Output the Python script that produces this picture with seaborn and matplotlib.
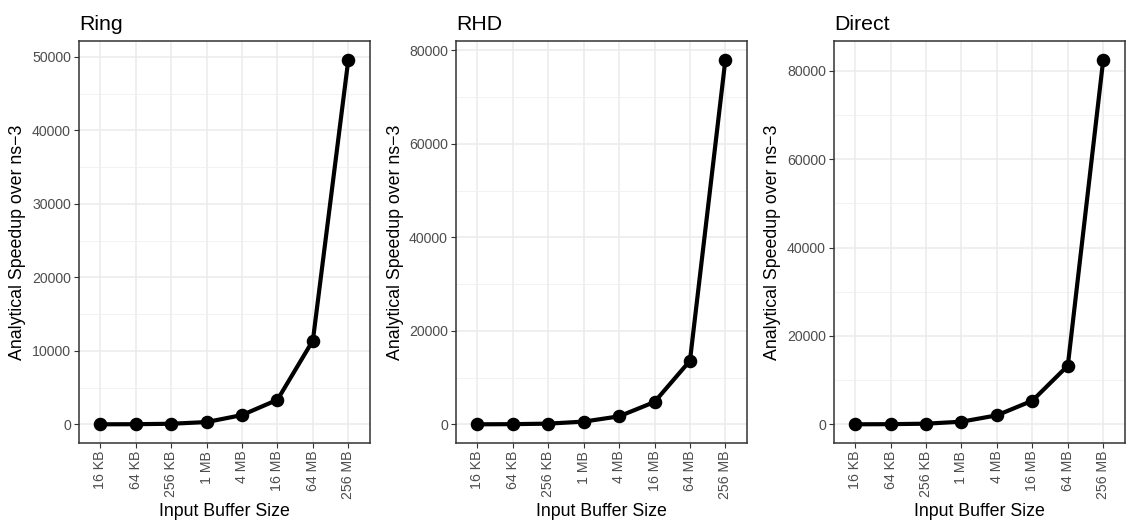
import matplotlib
matplotlib.use("Agg")
import matplotlib.pyplot as plt
import seaborn as sns
import pandas as pd
from matplotlib.ticker import MultipleLocator

sizes = ["16 KB", "64 KB", "256 KB", "1 MB", "4 MB", "16 MB", "64 MB", "256 MB"]
ring = [5, 20, 80, 310, 1260, 3340, 11400, 49600]
rhd = [10, 40, 150, 580, 1710, 4780, 13600, 78000]
direct = [10, 40, 150, 600, 2040, 5350, 13270, 82500]
titles = ["Ring", "RHD", "Direct"]
series = [ring, rhd, direct]
major_steps = [10000, 20000, 20000]

sns.set_theme(style="white")
plt.rcParams["font.family"] = ["Liberation Sans", "DejaVu Sans"]

fig = plt.figure(figsize=(11.33, 5.25), dpi=100)
lefts = [0.0697, 0.4025, 0.736]
for left, title, vals, step in zip(lefts, titles, series, major_steps):
    ax = fig.add_axes([left, 0.157, 0.2565, 0.764])
    df = pd.DataFrame({"size": sizes, "speedup": vals})
    sns.pointplot(data=df, x="size", y="speedup", order=sizes, color="black",
                  linewidth=3.0, markersize=7.5, ax=ax, zorder=3)
    ax.set_xlim(-0.6, 7.6)
    lo, hi = 0, max(vals)
    pad = (hi - lo) * 0.05
    ax.set_ylim(lo - pad, hi + pad)
    ax.yaxis.set_major_locator(MultipleLocator(step))
    ax.yaxis.set_minor_locator(MultipleLocator(step / 2))
    ax.grid(True, which="major", color="#EBEBEB", linewidth=1.1, zorder=0)
    ax.grid(True, which="minor", axis="y", color="#F0F0F0", linewidth=0.6, zorder=0)
    ax.set_axisbelow(True)
    for s in ax.spines.values():
        s.set_color("#333333")
        s.set_linewidth(1.1)
        s.set_visible(True)
    ax.tick_params(axis="both", which="major", length=3.3, width=0.8, color="#333333",
                   labelsize=10.2, labelcolor="#4D4D4D", direction="out", bottom=True, left=True, pad=2.5)
    ax.tick_params(axis="both", which="minor", length=0)
    plt.setp(ax.get_xticklabels(), rotation=90, va="top", ha="center")
    ax.set_xlabel("Input Buffer Size", fontsize=12.8, color="black", labelpad=3)
    ax.set_ylabel("Analytical Speedup over ns\u22123", fontsize=12.8, color="black", labelpad=4)
    ax.set_title(title, loc="left", fontsize=15.3, color="black", pad=8)

fig.savefig("out.png", dpi=100, facecolor="white")
